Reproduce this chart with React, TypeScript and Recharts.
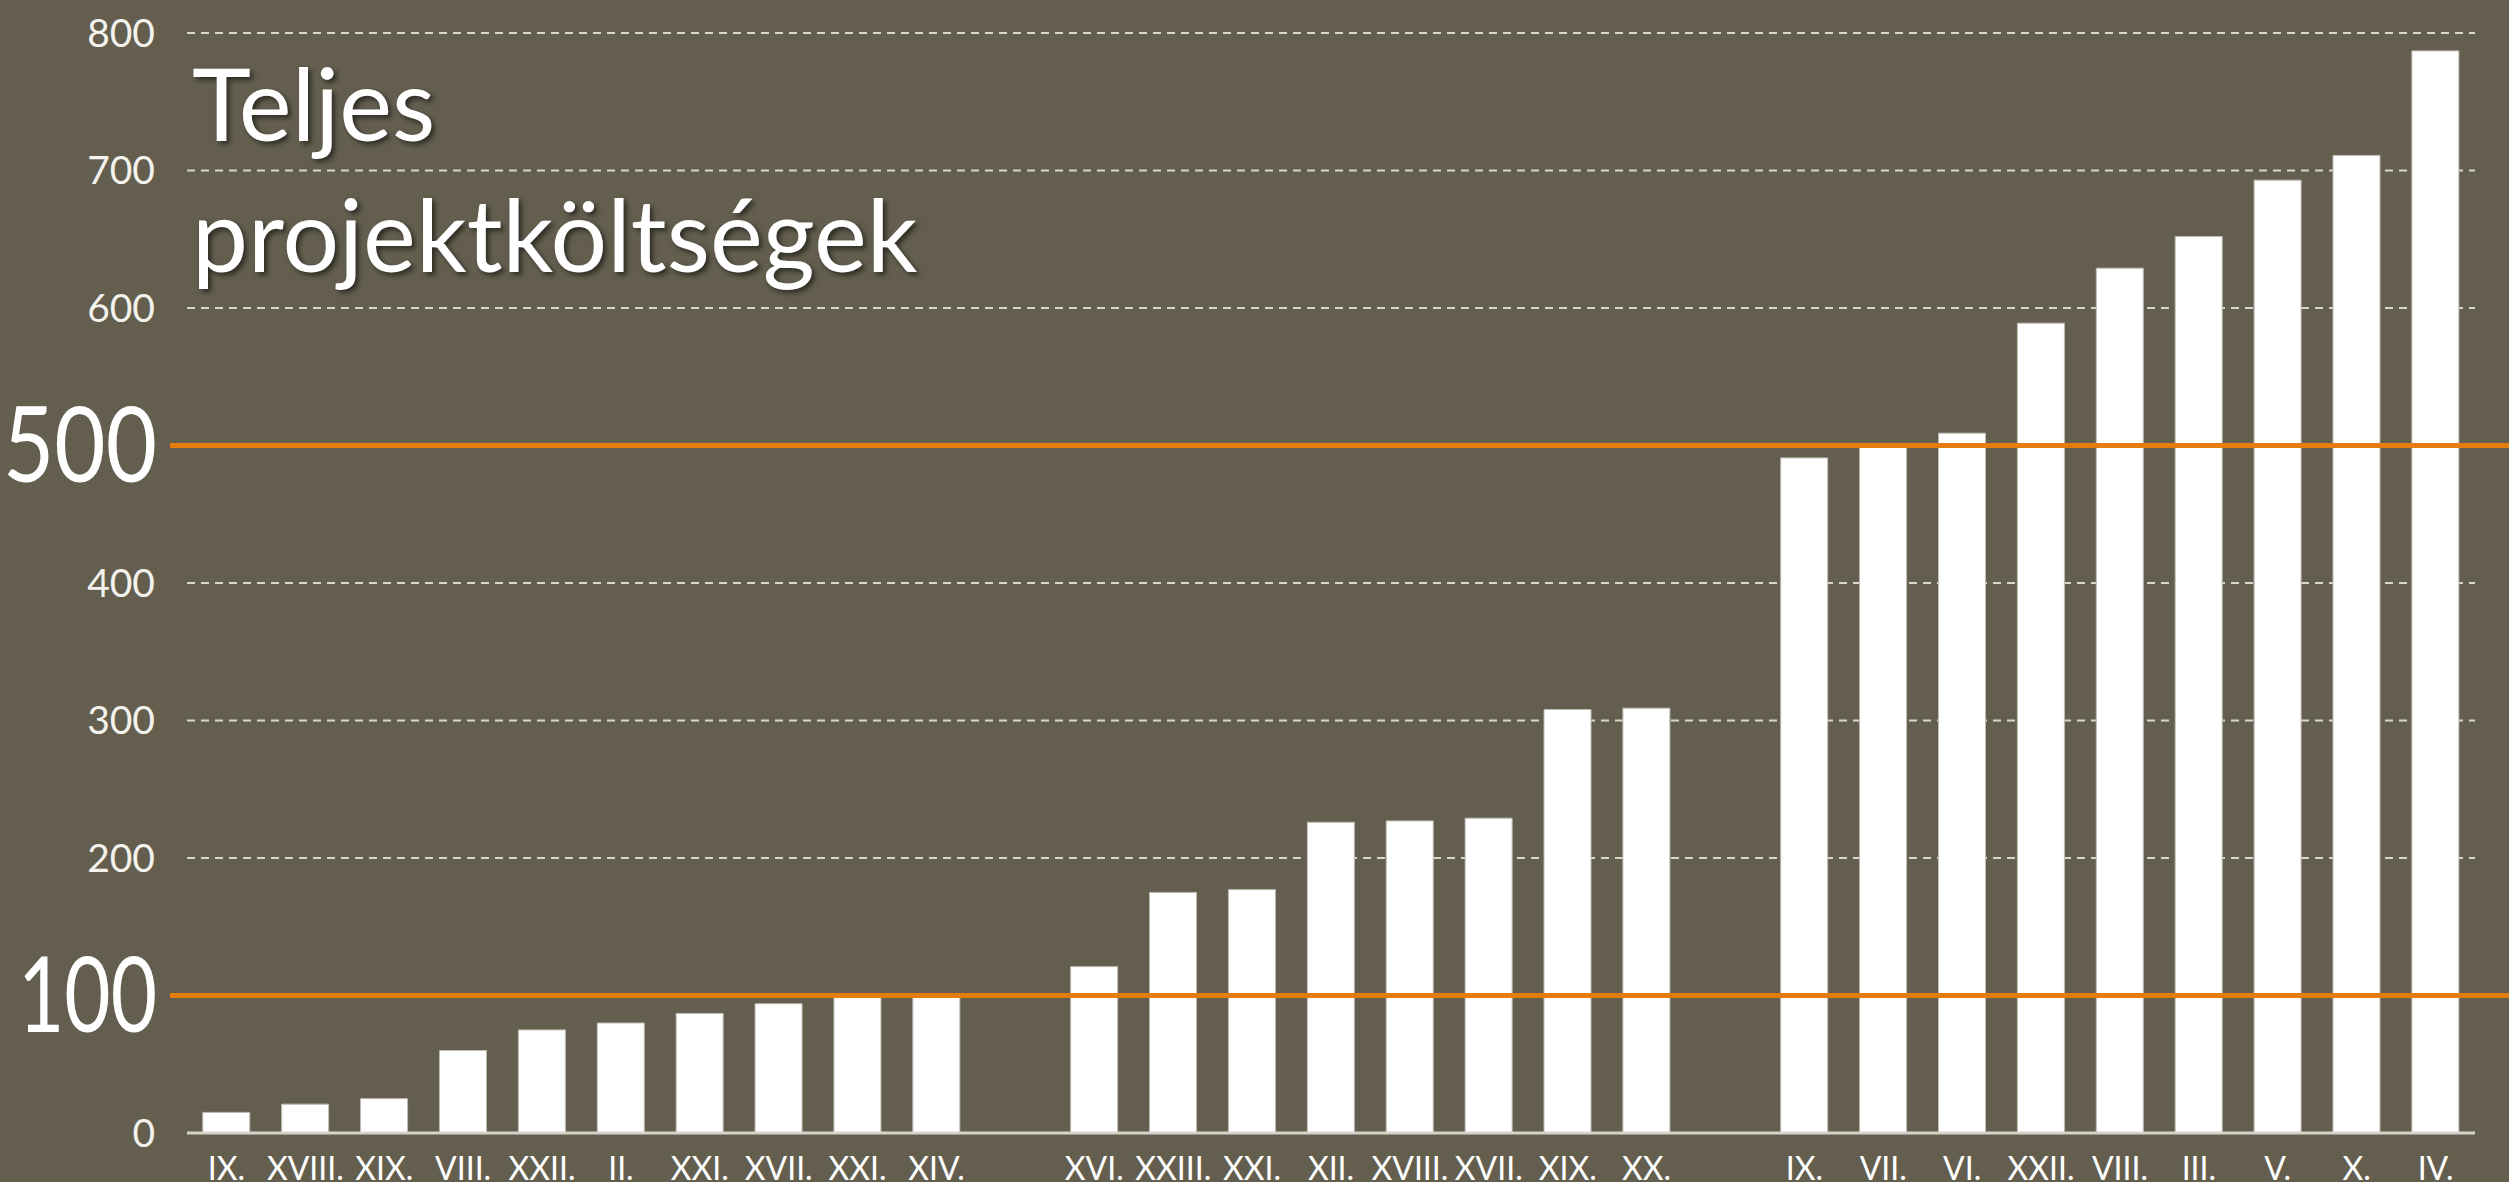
import {
  Bar,
  BarChart,
  CartesianGrid,
  ReferenceLine,
  XAxis,
  YAxis,
} from "recharts";

// three groups of districts, sorted by cost
const lowLabels = ["IX.", "XVIII.", "XIX.", "VIII.", "XXII.", "II.", "XXI.", "XVII.", "XXI.", "XIV."];
const lowCosts = [15, 21, 25, 60, 75, 80, 87, 94, 99, 100];

const midLabels = ["XVI.", "XXIII.", "XXI.", "XII.", "XVIII.", "XVII.", "XIX.", "XX."];
const midCosts = [121, 175, 177, 226, 227, 229, 308, 309];

const highLabels = ["IX.", "VII.", "VI.", "XXII.", "VIII.", "III.", "V.", "X.", "IV."];
const highCosts = [491, 499, 509, 589, 629, 652, 693, 711, 787];

const yTicks = [0, 200, 300, 400, 600, 700, 800];
const thresholds = [100, 500];

const BG = "#635E4E";
const ORANGE = "#E57C0E";
const FONT = "Lato, 'Noto Sans', sans-serif";

type Row = { id: string; label: string; cost: number | null };

function group(prefix: string, labels: string[], costs: number[]): Row[] {
  return labels.map((label, i) => ({ id: `${prefix}${i}`, label, cost: costs[i] }));
}

const data: Row[] = [
  ...group("a", lowLabels, lowCosts),
  { id: "gap1", label: "", cost: null },
  ...group("b", midLabels, midCosts),
  { id: "gap2", label: "", cost: null },
  ...group("c", highLabels, highCosts),
];

const labelById = new Map(data.map((d) => [d.id, d.label]));

function OrangeLine(p: any) {
  return (
    <line
      x1={p.x1 - 17}
      y1={p.y1}
      x2={p.x2 + 34}
      y2={p.y2}
      stroke={ORANGE}
      strokeWidth={5}
    />
  );
}

function BigLabel({ viewBox, value }: { viewBox?: any; value: string }) {
  if (!viewBox) return null;
  // the original face is narrower than Lato, so squeeze the digits a little
  const width = value === "100" ? 139 : 154;
  return (
    <text
      x={viewBox.x - 30}
      y={viewBox.y + 36}
      textAnchor="end"
      fill="#ffffff"
      fontSize={104}
      fontFamily={FONT}
      textLength={width}
      lengthAdjust="spacingAndGlyphs"
    >
      {value}
    </text>
  );
}

export default function App() {
  return (
    <div
      style={{
        position: "absolute",
        left: 0,
        top: 0,
        width: 2509,
        height: 1182,
        background: BG,
        overflow: "hidden",
      }}
    >
      <BarChart
        width={2509}
        height={1182}
        data={data}
        margin={{ top: 33, right: 34, bottom: 0, left: 0 }}
        barCategoryGap="20%"
        style={{ fontFamily: FONT }}
      >
        <CartesianGrid
          vertical={false}
          stroke="#d8d5cc"
          strokeWidth={2}
          strokeDasharray="8 6"
        />
        <XAxis
          dataKey="id"
          height={49}
          interval={0}
          tickLine={false}
          tickSize={0}
          tickMargin={24}
          axisLine={{ stroke: "#d5d3cc", strokeWidth: 3 }}
          tickFormatter={(v) => labelById.get(v) ?? ""}
          tick={{ fill: "#ffffff", fontSize: 32, fontFamily: FONT }}
        />
        <YAxis
          width={187}
          domain={[0, 800]}
          ticks={yTicks}
          interval={0}
          axisLine={false}
          tickLine={false}
          tickSize={0}
          tickMargin={32}
          tick={{ fill: "#f4f2ec", fontSize: 39, fontFamily: FONT }}
        />
        <Bar
          dataKey="cost"
          fill="#ffffff"
          stroke="#bdbab1"
          strokeWidth={1}
          isAnimationActive={false}
        />
        {thresholds.map((t) => (
          <ReferenceLine
            key={t}
            y={t}
            shape={OrangeLine}
            label={<BigLabel value={String(t)} />}
          />
        ))}
      </BarChart>
      <div
        style={{
          position: "absolute",
          left: 192,
          top: 37,
          color: "#ffffff",
          fontFamily: FONT,
          fontSize: 100,
          lineHeight: "131px",
          textShadow: "3px 3px 5px rgba(0,0,0,0.55)",
          whiteSpace: "nowrap",
        }}
      >
        Teljes
        <br />
        projektköltségek
      </div>
    </div>
  );
}
